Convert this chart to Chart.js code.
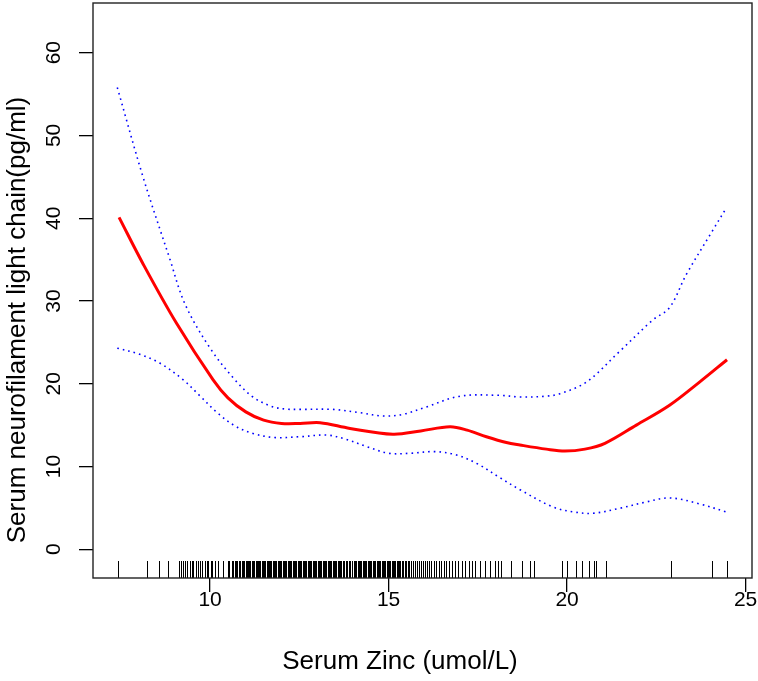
<!DOCTYPE html>
<html>
<head>
<meta charset="utf-8">
<title>Serum Zinc vs NfL</title>
<script src="https://cdn.jsdelivr.net/npm/chart.js@4.4.1/dist/chart.umd.min.js"></script>
<style>
  html, body { margin: 0; padding: 0; background: #fff; }
  #wrap { width: 758px; height: 681px; }
</style>
</head>
<body>
<div id="wrap"><canvas id="myChart"></canvas></div>
<script>
// fitted curve (red)
const fitX = [7.45, 8.12, 9.06, 10.08, 10.5, 11.0, 11.5, 12.0, 12.52, 13.08, 13.92, 15.12, 15.9, 16.72, 17.2, 17.74, 18.3, 18.68, 19.42, 19.94, 20.5, 21.06, 21.94, 22.87, 23.71, 24.48];
const fitY = [40.1, 34.5, 27.3, 20.5, 18.3, 16.6, 15.6, 15.2, 15.2, 15.3, 14.6, 13.9, 14.3, 14.8, 14.4, 13.6, 12.9, 12.6, 12.1, 11.87, 12.1, 12.8, 15.0, 17.4, 20.2, 22.9];

// upper confidence band (blue dotted)
const upX = [7.40, 8.12, 8.87, 9.3, 10.0, 10.69, 11.2, 11.7, 12.1, 12.52, 13.44, 14.2, 14.85, 15.4, 16.06, 17.0, 18.12, 18.68, 19.42, 19.8, 20.54, 21.47, 22.4, 22.87, 23.34, 24.09, 24.44];
const upY = [55.8, 45.0, 35.1, 29.6, 24.3, 20.5, 18.4, 17.3, 16.95, 16.9, 16.9, 16.5, 16.1, 16.3, 17.2, 18.5, 18.6, 18.4, 18.5, 18.8, 20.2, 23.9, 27.7, 29.2, 33.2, 38.6, 41.1];

// lower confidence band (blue dotted)
const lowX = [7.40, 8.0, 8.59, 9.24, 9.7, 10.2, 10.7, 11.2, 11.8, 12.52, 13.27, 13.8, 14.39, 15.0, 15.6, 16.3, 16.9, 17.5, 18.1, 18.68, 19.61, 20.2, 20.73, 21.47, 22.2, 22.87, 23.7, 24.46];
const lowY = [24.3, 23.6, 22.5, 20.5, 18.6, 16.5, 14.9, 14.0, 13.5, 13.6, 13.8, 13.3, 12.4, 11.6, 11.6, 11.8, 11.4, 10.3, 8.7, 7.2, 5.1, 4.5, 4.35, 4.95, 5.7, 6.2, 5.5, 4.5];

// observed zinc values (rug)
const rugValues = [7.41, 8.23, 8.57, 8.83,
  9.14, 9.19, 9.24, 9.31, 9.36, 9.43, 9.5, 9.53, 9.6, 9.67, 9.72, 9.78, 9.86, 9.9, 9.95, 10.02, 10.06, 10.14,
  10.23, 10.23, 10.37, 10.37, 10.5, 10.52, 10.6, 10.64, 10.69, 10.72, 10.76, 10.8, 10.84, 10.88, 10.92, 10.95, 11.0, 11.03, 11.07, 11.1,
  11.13, 11.17, 11.2, 11.24, 11.28, 11.31, 11.34, 11.38, 11.41, 11.45, 11.48, 11.52, 11.55, 11.59, 11.62, 11.66, 11.69, 11.72, 11.76, 11.8, 11.83, 11.86,
  11.9, 11.93, 11.97, 12.0, 12.04, 12.07, 12.11, 12.14, 12.18, 12.21, 12.25, 12.28, 12.32, 12.35, 12.39, 12.42, 12.46, 12.49, 12.53, 12.56, 12.6,
  12.63, 12.67, 12.7, 12.74, 12.77, 12.81, 12.84, 12.88, 12.91, 12.95, 12.98, 13.02, 13.05, 13.09, 13.12, 13.16, 13.19, 13.23, 13.26, 13.3,
  13.33, 13.37, 13.4, 13.44, 13.47, 13.51, 13.54, 13.58, 13.61, 13.65, 13.68, 13.72, 13.75, 13.8, 13.84, 13.89, 13.93, 13.98, 14.02,
  14.06, 14.09, 14.13, 14.16, 14.2, 14.24, 14.27, 14.31, 14.34, 14.38, 14.42, 14.45, 14.49, 14.52, 14.56, 14.6, 14.63, 14.67, 14.7, 14.74,
  14.77, 14.81, 14.84, 14.88, 14.91, 14.95, 14.98, 15.02, 15.05, 15.09, 15.12, 15.16, 15.19, 15.23, 15.26, 15.3, 15.33, 15.37, 15.41, 15.45,
  15.5, 15.54, 15.58, 15.63, 15.68, 15.74, 15.79, 15.85, 15.9, 15.96, 16.02, 16.08, 16.14, 16.2, 16.27, 16.33, 16.4,
  16.47, 16.55, 16.62, 16.7, 16.78, 16.87, 16.95, 17.05, 17.14, 17.24, 17.33, 17.42, 17.56, 17.7, 17.84, 17.98,
  18.06, 18.16, 18.44, 18.75, 18.96, 19.07, 19.87, 20.0, 20.26, 20.42, 20.61, 20.76, 20.8, 21.08, 22.9, 24.07, 24.49];

const xTicks = [10, 15, 20, 25];
const yTicks = [0, 10, 20, 30, 40, 50, 60];
const xTitle = 'Serum Zinc (umol/L)';
const yTitle = 'Serum neurofilament light chain(pg/ml)';

const fontFamily = '"Liberation Sans", Arial, Helvetica, sans-serif';

function toPoints(xs, ys) {
    return xs.map((x, i) => ({ x: x, y: ys[i] }));
}

// box, rug and axis titles
const extras = {
    id: 'extras',
    beforeDatasetsDraw(chart) {
        const { ctx, chartArea: a, scales: { x } } = chart;
        ctx.save();
        ctx.strokeStyle = '#000';
        ctx.lineWidth = 1;
        ctx.beginPath();
        rugValues.forEach(v => {
            const px = Math.round(x.getPixelForValue(v)) + 0.5;
            ctx.moveTo(px, a.bottom);
            ctx.lineTo(px, a.bottom - 17);
        });
        ctx.stroke();
        ctx.restore();
    },
    afterDraw(chart) {
        const { ctx, chartArea: a } = chart;
        ctx.save();
        ctx.strokeStyle = '#222';
        ctx.lineWidth = 1.4;
        ctx.strokeRect(a.left, a.top, a.right - a.left, a.bottom - a.top);

        ctx.fillStyle = '#000';
        ctx.font = '26px ' + fontFamily;
        ctx.textAlign = 'center';
        ctx.textBaseline = 'middle';
        ctx.fillText(xTitle, 400, 662);

        ctx.translate(18, 320);
        ctx.rotate(-Math.PI / 2);
        ctx.fillText(yTitle, 0, 0);
        ctx.restore();
    }
};

function noPad(s) {
    s.paddingTop = 0;
    s.paddingBottom = 0;
    s.paddingLeft = 0;
    s.paddingRight = 0;
}

const ctx = document.getElementById('myChart');
new Chart(ctx, {
    type: 'line',
    data: {
        datasets: [
            {
                label: 'upper',
                data: toPoints(upX, upY),
                borderColor: '#0000ff',
                borderWidth: 1.6,
                borderDash: [1.6, 4],
                pointRadius: 0,
                tension: 0.35,
                fill: false
            },
            {
                label: 'lower',
                data: toPoints(lowX, lowY),
                borderColor: '#0000ff',
                borderWidth: 1.6,
                borderDash: [1.6, 4],
                pointRadius: 0,
                tension: 0.35,
                fill: false
            },
            {
                label: 'fit',
                data: toPoints(fitX, fitY),
                borderColor: '#ff0000',
                borderWidth: 3,
                pointRadius: 0,
                tension: 0.35,
                fill: false
            }
        ]
    },
    options: {
        responsive: true,
        maintainAspectRatio: false,
        animation: false,
        layout: { padding: { top: 3, right: 6, left: 0, bottom: 0 } },
        plugins: {
            legend: { display: false },
            tooltip: { enabled: false }
        },
        scales: {
            x: {
                type: 'linear',
                min: 6.72,
                max: 25.18,
                afterBuildTicks: s => { s.ticks = xTicks.map(v => ({ value: v })); },
                afterFit: s => { s.height = 103; noPad(s); },
                border: { display: false },
                grid: { drawOnChartArea: false, tickLength: 14, color: '#000', lineWidth: 1.3 },
                ticks: {
                    color: '#000',
                    padding: -2,
                    maxRotation: 0,
                    font: { size: 21, family: fontFamily, lineHeight: 1 }
                }
            },
            y: {
                type: 'linear',
                min: -3.47,
                max: 66,
                afterBuildTicks: s => { s.ticks = yTicks.map(v => ({ value: v })); },
                afterFit: s => { s.width = 93; noPad(s); },
                border: { display: false },
                grid: { drawOnChartArea: false, tickLength: 14, color: '#000', lineWidth: 1.3 },
                ticks: {
                    color: '#000',
                    minRotation: 90,
                    maxRotation: 90,
                    crossAlign: 'center',
                    padding: 13,
                    font: { size: 21, family: fontFamily, lineHeight: 1 }
                }
            }
        }
    },
    plugins: [extras]
});
</script>
</body>
</html>
